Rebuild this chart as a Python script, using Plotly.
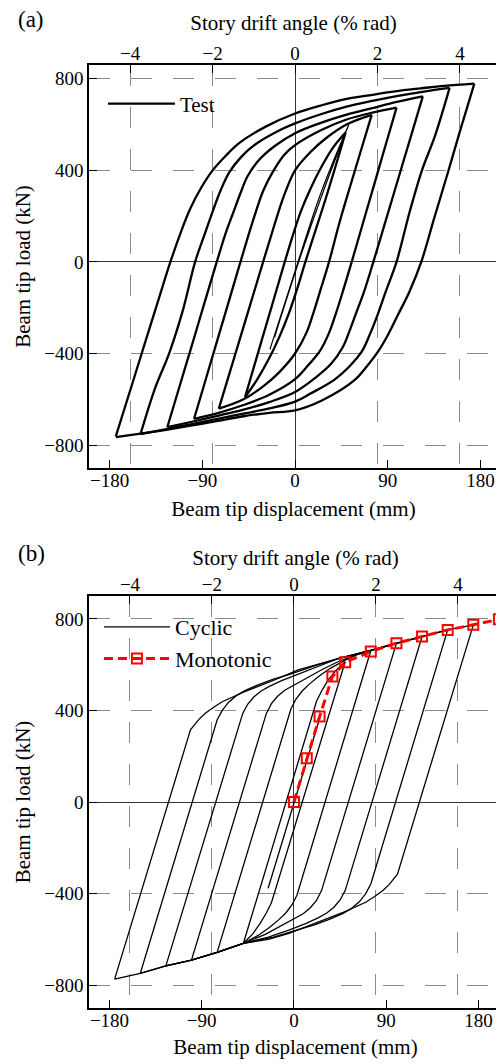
import plotly.graph_objects as go

# ---------------- Panel (a): test hysteresis (mm, kN) ----------------
a6_up_x = [-174, -158, -145, -132, -121, -110, -102, -91, -80, -67, -54, -28, 0, 25, 49, 75, 97, 122, 145, 174]
a6_up_y = [-762, -532, -344, -157, 0, 140, 230, 325, 400, 465, 520, 592, 648, 683, 711, 730, 745, 758, 769, 779]
a6_lo_x = [174, 160, 148, 135, 122.5, 111, 100, 90, 80, 68, 58, 26, 0, -25, -50, -75, -100, -125, -150, -174]
a6_lo_y = [779, 570, 385, 190, 0, -130, -230, -320, -395, -465, -515, -605, -648, -659, -674, -694, -714, -733, -750, -765]

a5_up_x = [-150, -136, -122, -109, -97, -87, -80, -72, -64, -52, -38, -15, 0, 25, 50, 75, 100, 125, 150]
a5_up_y = [-752, -553, -397, -213, 0, 130, 220, 315, 390, 460, 515, 575, 605, 645, 678, 703, 725, 744, 760]
a5_lo_x = [150, 136, 123, 111, 98.5, 88, 81, 73, 65, 52, 38, 15, 0, -25, -50, -75, -100, -125, -150]
a5_lo_y = [760, 553, 398, 215, 0, -130, -220, -312, -390, -460, -515, -575, -610, -640, -663, -685, -708, -730, -752]

a4_up_x = [-124, -112, -100, -88, -76, -67, -60, -53, -46, -35, -20, 0, 25, 50, 75, 100, 124]
a4_up_y = [-722, -542, -362, -180, 0, 130, 215, 300, 375, 445, 505, 562, 607, 643, 672, 700, 723]
a4_lo_x = [124, 112, 100, 88, 76, 67, 60, 53, 46, 35, 20, 0, -25, -50, -75, -100, -124]
a4_lo_y = [723, 542, 361, 180, 0, -130, -215, -300, -375, -445, -505, -568, -612, -645, -672, -698, -722]

a3_up_x = [-98, -87, -76, -65, -53, -45, -38, -31, -22, -10, 0, 25, 50, 75, 98.5]
a3_up_y = [-685, -518, -350, -183, 0, 120, 220, 310, 390, 470, 510, 575, 622, 652, 674]
a3_lo_x = [98.5, 87.5, 77, 66, 55, 47, 40, 33, 24, 12, 0, -25, -50, -75, -98]
a3_lo_y = [674, 504, 341, 171, 0, -120, -220, -310, -390, -455, -512, -580, -625, -660, -685]

a2_up_x = [-74, -63, -52, -42, -31, -23, -16, -9, 0, 15, 30, 50, 74.4]
a2_up_y = [-641, -477, -313, -164, 0, 118, 220, 310, 400, 480, 540, 600, 642]
a2_lo_x = [74.4, 63.5, 53, 43, 33, 25, 18, 11, 0, -15, -30, -50, -74]
a2_lo_y = [642, 480, 323, 170, 0, -118, -220, -310, -400, -480, -540, -600, -641]

a1_up_x = [-48.5, -39, -29, -19, -10, -2, 6, 15, 25, 37, 49]
a1_up_y = [-590, -444, -291, -138, 0, 118, 225, 320, 410, 500, 565]
a1_lo_x = [49, 39.5, 30, 20, 10, 2, -6, -15, -25, -37, -48.5]
a1_lo_y = [565, 420, 280, 140, 0, -118, -225, -325, -420, -515, -590]

a0_x = [-24.4, 0, 25, 52, 30, 5, -20]
a0_y = [-382, -40, 300, 599, 340, 20, -330]

# ---------------- Panel (b): cyclic analysis + monotonic ----------------
b6_up_x = [-175, -101, -93, -86.5, -78, -70, -48, -19, 4, 25, 44, 75, 100, 125, 150, 175]
b6_up_y = [-774, 315, 360, 388, 415, 438, 482, 533, 577, 605, 628, 662, 694, 723, 752, 774]
b6_lo_x = [175, 101, 93, 86.5, 78, 70, 48, 19, -4.8, -25, -49.4, -75, -100, -125, -150, -175]
b6_lo_y = [774, -315, -360, -388, -415, -438, -482, -533, -574, -600, -618, -657, -691, -716, -749, -774]

b5_up_x = [-150, -75, -70, -64, -56, -48, -35, -20, -5, 20, 44, 75, 100, 125, 150]
b5_up_y = [-749, 358, 400, 435, 465, 487, 512, 537, 557, 595, 628, 662, 694, 723, 752]
b5_lo_x = [150, 75, 70, 64, 56, 48, 35, 20, 5, -20, -49.4, -75, -100, -125, -150]
b5_lo_y = [752, -358, -400, -435, -465, -487, -512, -537, -557, -590, -618, -657, -691, -716, -749]

b4_up_x = [-125, -50, -45, -39, -32, -24, -12, 5, 25, 44, 75, 100, 125]
b4_up_y = [-716, 387, 428, 460, 485, 505, 530, 560, 597, 628, 662, 694, 723]
b4_lo_x = [125, 50, 45, 39, 32, 24, 12, -5, -25, -49.4, -75, -100, -125]
b4_lo_y = [723, -387, -428, -460, -485, -505, -530, -560, -590, -618, -657, -691, -716]

b3_up_x = [-100, -27, -22, -16, -9, 0, 12, 28, 44, 60, 75, 100]
b3_up_y = [-691, 386, 430, 462, 488, 510, 540, 580, 615, 642, 662, 694]
b3_lo_x = [100, 27, 22, 16, 9, 0, -12, -28, -49.4, -75, -100]
b3_lo_y = [694, -386, -430, -462, -488, -510, -540, -578, -618, -657, -691]

b2_up_x = [-75, -3, 2, 8, 15, 24, 35, 50, 62, 75]
b2_up_y = [-657, 406, 450, 485, 515, 548, 583, 620, 645, 662]
b2_lo_x = [75, 3, -2, -8, -15, -24, -35, -49.4, -75]
b2_lo_y = [662, -406, -450, -485, -515, -548, -583, -618, -657]

b1_up_x = [-49.4, 18, 22, 27, 33, 40, 50]
b1_up_y = [-618, 388, 440, 485, 530, 570, 613]
b1_lo_x = [50, -18, -22, -27, -33, -40, -49.4]
b1_lo_y = [613, -388, -440, -485, -530, -575, -618]

b0_x = [25, -25.2]
b0_y = [365, -377]

mono_x = [0, 12.5, 25, 37.5, 50, 75, 100, 125, 150, 175, 200]
mono_y = [0, 191, 373, 548, 611, 657, 694, 723, 752, 774, 798]

# tick labels
disp_ticks = [-180, -90, 0, 90, 180]
drift_ticks = [-4, -2, 0, 2, 4]
load_ticks = [-800, -400, 0, 400, 800]


def join(*segs):
    out = []
    for s in segs:
        if out:
            out.append(None)
        out.extend(s)
    return out


a_x = join(a6_up_x, a6_lo_x, a5_up_x, a5_lo_x, a4_up_x, a4_lo_x, a3_up_x, a3_lo_x, a2_up_x, a2_lo_x, a1_up_x, a1_lo_x)
a_y = join(a6_up_y, a6_lo_y, a5_up_y, a5_lo_y, a4_up_y, a4_lo_y, a3_up_y, a3_lo_y, a2_up_y, a2_lo_y, a1_up_y, a1_lo_y)
b_x = join(b6_up_x, b6_lo_x, b5_up_x, b5_lo_x, b4_up_x, b4_lo_x, b3_up_x, b3_lo_x, b2_up_x, b2_lo_x, b1_up_x, b1_lo_x, b0_x)
b_y = join(b6_up_y, b6_lo_y, b5_up_y, b5_lo_y, b4_up_y, b4_lo_y, b3_up_y, b3_lo_y, b2_up_y, b2_lo_y, b1_up_y, b1_lo_y, b0_y)

FONT = "Liberation Serif, Times New Roman, serif"
OFF = 8                      # page body margin
W, H = 504 - OFF, 1064 - OFF
L = 89 - OFF
PW = W - L                   # plot-area width in paper units


def px(xp):
    return (xp - 89) / PW


def py(yp):
    return 1 - (yp - OFF) / H


fig = go.Figure()
fig.add_trace(go.Scatter(x=a0_x, y=a0_y, mode="lines", line=dict(color="black", width=1.2, shape="spline"),
                         showlegend=False, hoverinfo="skip", xaxis="x", yaxis="y"))
fig.add_trace(go.Scatter(x=a_x, y=a_y, mode="lines", name="Test", connectgaps=False,
                         line=dict(color="black", width=2.3, shape="spline", smoothing=1.0),
                         xaxis="x", yaxis="y", legend="legend"))
fig.add_trace(go.Scatter(x=b_x, y=b_y, mode="lines", name="Cyclic", connectgaps=False,
                         line=dict(color="black", width=1.3),
                         xaxis="x2", yaxis="y2", legend="legend2"))
fig.add_trace(go.Scatter(x=mono_x, y=mono_y, mode="lines+markers", name="Monotonic",
                         line=dict(color="red", width=3, dash="9px,5px"),
                         marker=dict(symbol="square-open", size=10, color="red", line=dict(width=2, color="red")),
                         xaxis="x2", yaxis="y2", legend="legend2"))
# invisible carriers so that the drift-angle (top) axes are drawn
for xa, ya_ in (("x3", "y"), ("x4", "y2")):
    fig.add_trace(go.Scatter(x=drift_ticks, y=[0] * len(drift_ticks), mode="markers",
                             marker=dict(opacity=0), showlegend=False, hoverinfo="skip",
                             xaxis=xa, yaxis=ya_))

tickfont = dict(family=FONT, size=19, color="black")
titlefont = dict(family=FONT, size=21, color="black")
dash = "21px,21px"
gridc = "#8a8a8a"

common_x = dict(ticks="inside", ticklen=8, tickwidth=1.2, tickcolor="black", showline=True, linecolor="black",
                linewidth=1.5, mirror=True, showgrid=False, zeroline=True, zerolinecolor="#333",
                zerolinewidth=1, tickfont=tickfont, tickvals=disp_ticks, fixedrange=True,
                ticklabelstandoff=-6)
common_y = dict(ticks="inside", ticklen=8, tickwidth=1.2, tickcolor="black", showline=True, linecolor="black",
                linewidth=1.5, mirror=True, showgrid=True, gridcolor=gridc, gridwidth=1, griddash=dash,
                zeroline=True, zerolinecolor="#333", zerolinewidth=1, tickfont=tickfont, tickvals=load_ticks,
                fixedrange=True,
                title=dict(text="Beam tip load (kN)", font=titlefont, standoff=8))
common_top = dict(side="top", ticks="inside", ticklen=8, tickwidth=1.2, tickcolor="black", showline=False,
                  showgrid=True, gridcolor=gridc, gridwidth=1, griddash=dash, zeroline=False,
                  tickfont=tickfont, tickvals=drift_ticks, fixedrange=True)

ya = [py(468), py(65)]
yb = [py(1008), py(596)]

fig.update_layout(
    width=W, height=H, margin=dict(l=L, r=0, t=0, b=0),
    paper_bgcolor="white", plot_bgcolor="white",
    font=dict(family=FONT, color="black"),
    xaxis=dict(domain=[0, 411 / PW], anchor="y", range=[-200, 197],
               title=dict(text="Beam tip displacement (mm)", font=titlefont, standoff=12), **common_x),
    yaxis=dict(domain=ya, anchor="x", range=[-900, 860], **common_y),
    xaxis3=dict(overlaying="x", anchor="y", range=[-5, 197 / 40],
                title=dict(text="Story drift angle (% rad)", font=titlefont, standoff=6), **common_top),
    xaxis2=dict(domain=[0, 1], anchor="y2", range=[-200, 203],
                title=dict(text="Beam tip displacement (mm)", font=titlefont, standoff=10), **common_x),
    yaxis2=dict(domain=yb, anchor="x2", range=[-900, 900], **common_y),
    xaxis4=dict(overlaying="x2", anchor="y2", range=[-5, 203 / 40],
                title=dict(text="Story drift angle (% rad)", font=titlefont, standoff=2), **common_top),
    legend=dict(x=px(103), y=py(104), xanchor="left", yanchor="middle",
                bgcolor="rgba(0,0,0,0)", font=dict(family=FONT, size=21, color="black"), itemwidth=67),
    legend2=dict(x=px(99), y=py(643), xanchor="left", yanchor="middle",
                 bgcolor="rgba(0,0,0,0)", font=dict(family=FONT, size=22, color="black"), itemwidth=66,
                 tracegroupgap=0),
    annotations=[
        dict(text="(a)", x=px(31), y=py(20), xref="paper", yref="paper", showarrow=False,
             font=dict(family=FONT, size=23, color="black"), xanchor="center", yanchor="middle"),
        dict(text="(b)", x=px(31), y=py(553), xref="paper", yref="paper", showarrow=False,
             font=dict(family=FONT, size=23, color="black"), xanchor="center", yanchor="middle"),
    ],
    showlegend=True,
)

fig.write_html("out.html")
